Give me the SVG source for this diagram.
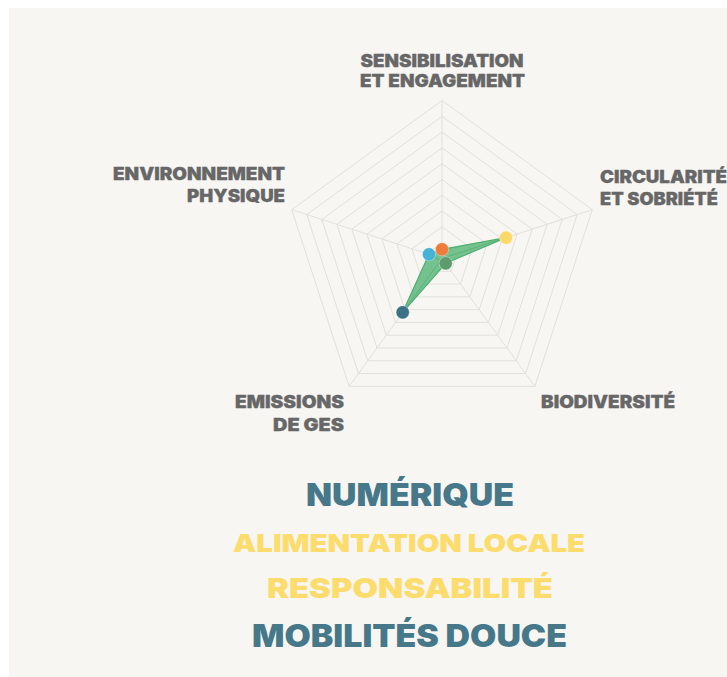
<svg xmlns="http://www.w3.org/2000/svg" width="727" height="677" viewBox="0 0 727 677">
<style>
.grid{fill:none;stroke:#e2e0dc;stroke-width:1}
.lbl{font-family:"Inter","Lato","Liberation Sans",sans-serif;font-weight:900;font-size:17px;fill:#676767;stroke:#676767;stroke-width:0.3}
.big{font-family:"Inter","Lato","Liberation Sans",sans-serif;font-weight:900}
.navy{fill:#46788a}
.yel{fill:#fcdc6c}
.pt{stroke:#ffffff;stroke-opacity:0.35;stroke-width:1}
</style>
<rect x="0" y="0" width="727" height="677" fill="#ffffff"/>
<rect x="9" y="8" width="718" height="669" fill="#f7f6f3"/>
<g id="grid">
<polygon class="grid" points="442,242.7 457.03,253.62 451.29,271.28 432.71,271.28 426.97,253.62"/>
<polygon class="grid" points="442,226.9 472.05,248.73 460.57,284.07 423.43,284.07 411.95,248.73"/>
<polygon class="grid" points="442,211.1 487.08,243.85 469.86,296.85 414.14,296.85 396.92,243.85"/>
<polygon class="grid" points="442,195.3 502.11,238.97 479.15,309.63 404.85,309.63 381.89,238.97"/>
<polygon class="grid" points="442,179.5 517.13,234.09 488.44,322.41 395.56,322.41 366.87,234.09"/>
<polygon class="grid" points="442,163.7 532.16,229.2 497.72,335.2 386.28,335.2 351.84,229.2"/>
<polygon class="grid" points="442,147.9 547.19,224.32 507.01,347.98 376.99,347.98 336.81,224.32"/>
<polygon class="grid" points="442,132.1 562.21,219.44 516.3,360.76 367.7,360.76 321.79,219.44"/>
<polygon class="grid" points="442,116.3 577.24,214.56 525.58,373.54 358.42,373.54 306.76,214.56"/>
<polygon class="grid" points="442,100.5 592.27,209.67 534.87,386.33 349.13,386.33 291.73,209.67"/>
<path class="grid" d="M442,258.5L442,100.5M442,258.5L592.27,209.67M442,258.5L534.87,386.33M442,258.5L349.13,386.33M442,258.5L291.73,209.67"/>
</g>
<g id="data">
<polygon points="429,254.3 442,249.3 506,237.7 445.7,263.3 402.7,312.3" fill="#5dba7c" fill-opacity="0.85" stroke="#4fae70" stroke-width="1.2" stroke-linejoin="round"/>
<path d="M442,258.5L402.7,312.3M442,258.5L506,237.7M429,254.3L445.7,263.3" fill="none" stroke="#4a9e66" stroke-opacity="0.45" stroke-width="1"/>
</g>
<g id="points">
<circle id="p-environnement" class="pt" cx="429" cy="254.3" r="6.6" fill="#46b3d6"/>
<circle id="p-sensibilisation" class="pt" cx="442" cy="249.3" r="6.6" fill="#f07b3b"/>
<circle id="p-circularite" class="pt" cx="506" cy="237.7" r="6.6" fill="#fcd96a"/>
<circle id="p-biodiversite" class="pt" cx="445.7" cy="263.3" r="6.6" fill="#5e9b6d"/>
<circle id="p-emissions" class="pt" cx="402.7" cy="312.3" r="6.6" fill="#3c7084"/>
</g>
<g id="label-sensibilisation">
<text class="lbl" x="442" y="66.5" text-anchor="middle" textLength="163" lengthAdjust="spacingAndGlyphs">SENSIBILISATION</text>
<text class="lbl" x="442.5" y="86.5" text-anchor="middle" textLength="165" lengthAdjust="spacingAndGlyphs">ET ENGAGEMENT</text>
</g>
<g id="label-environnement">
<text class="lbl" x="285" y="180" text-anchor="end" textLength="172" lengthAdjust="spacingAndGlyphs">ENVIRONNEMENT</text>
<text class="lbl" x="285" y="202" text-anchor="end" textLength="98" lengthAdjust="spacingAndGlyphs">PHYSIQUE</text>
</g>
<g id="label-circularite">
<text class="lbl" x="600" y="183" textLength="127" lengthAdjust="spacingAndGlyphs">CIRCULARITÉ</text>
<text class="lbl" x="600" y="204.5" textLength="118" lengthAdjust="spacingAndGlyphs">ET SOBRIÉTÉ</text>
</g>
<g id="label-emissions">
<text class="lbl" x="344" y="408.3" text-anchor="end" textLength="109" lengthAdjust="spacingAndGlyphs">EMISSIONS</text>
<text class="lbl" x="344" y="430.5" text-anchor="end" textLength="71" lengthAdjust="spacingAndGlyphs">DE GES</text>
</g>
<g id="label-biodiversite">
<text class="lbl" x="541" y="408.3" textLength="134" lengthAdjust="spacingAndGlyphs">BIODIVERSITÉ</text>
</g>
<g id="legend">
<text class="big navy" x="410" y="506" font-size="31" text-anchor="middle" textLength="208" lengthAdjust="spacingAndGlyphs">NUMÉRIQUE</text>
<text class="big yel" x="409" y="551.5" font-size="25" text-anchor="middle" textLength="352" lengthAdjust="spacingAndGlyphs">ALIMENTATION LOCALE</text>
<text class="big yel" x="410" y="598" font-size="27" text-anchor="middle" textLength="286" lengthAdjust="spacingAndGlyphs">RESPONSABILITÉ</text>
<text class="big navy" x="409.5" y="646.5" font-size="31" text-anchor="middle" textLength="315" lengthAdjust="spacingAndGlyphs">MOBILITÉS DOUCE</text>
</g>
</svg>
